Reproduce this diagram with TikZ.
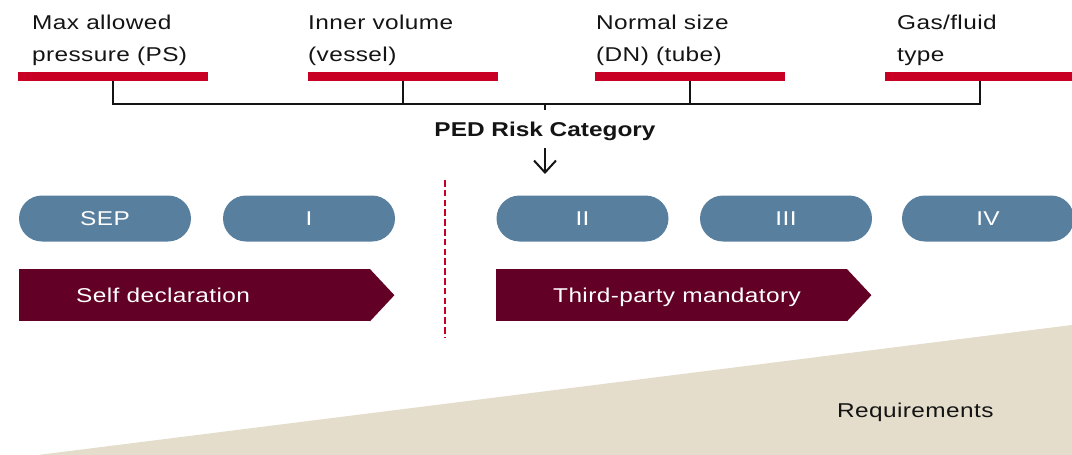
\documentclass[tikz,border=0pt]{standalone}
\usepackage{fontspec}
\setmainfont{Liberation Sans}[FakeStretch=1.22,LetterSpace=2]
\usetikzlibrary{arrows.meta}
\definecolor{pedred}{RGB}{200,0,35}
\definecolor{pill}{RGB}{89,127,159}
\definecolor{maroon}{RGB}{98,0,38}
\definecolor{beige}{RGB}{228,221,203}
\definecolor{ink}{RGB}{20,20,20}
\begin{document}
\begin{tikzpicture}[x=1pt,y=-1pt,
  lbl/.style={anchor=north west, inner sep=0pt, align=left, font=\fontsize{20}{32.3}\selectfont, text=ink},
  redbar/.style={fill=pedred, minimum width=190pt, minimum height=9pt, inner sep=0pt, anchor=north west},
  conn/.style={line width=2pt, draw=ink},
  pillbox/.style={fill=pill, rounded corners=23pt, minimum width=172pt, minimum height=46pt, inner sep=0pt, text=white, font=\fontsize{20}{24}\selectfont, text height=14.3pt, text depth=0pt},
  stage/.style={fill=maroon, minimum width=351pt, minimum height=52pt, inner sep=0pt, anchor=north west},
  stagetext/.style={inner sep=0pt, text=white, font=\fontsize{20}{24}\selectfont, text height=14.3pt, text depth=0pt, anchor=west},
  plain/.style={inner sep=0pt, text=ink, font=\fontsize{20}{24}\selectfont},
]
\useasboundingbox (0,0) rectangle (1072,455);
% background wedge
\fill[beige] (38,455) -- (1072,325) -- (1072,455) -- cycle;
\node[plain, anchor=base west] (req) at (837,417.3) {Requirements};
% labels
\node[lbl] (t1) at (32,15) {Max allowed\\pressure (PS)};
\node[lbl] (t2) at (308,15) {Inner volume\\(vessel)};
\node[lbl] (t3) at (596,15) {Normal size\\(DN) (tube)};
\node[lbl] (t4) at (897,15) {Gas/fluid\\type};
% red bars
\node[redbar] (b1) at (18,72) {};
\node[redbar] (b2) at (308,72) {};
\node[redbar] (b3) at (595,72) {};
\node[redbar] (b4) at (885,72) {};
% connectors
\coordinate (hub) at (545,104);
\draw[conn] (b1.south) -- (b1.south |- hub) -- (b4.south |- hub) -- (b4.south);
\draw[conn] (b2.south) -- (b2.south |- hub);
\draw[conn] (b3.south) -- (b3.south |- hub);
\node[plain, font=\bfseries\fontsize{20}{24}\selectfont\addfontfeature{LetterSpace=0}, anchor=base] (ped) at (545,136.7) {PED Risk Category};
\draw[conn, shorten >=12pt] (hub) -- (ped.north);
\coordinate (tip) at (545,174);
\draw[conn, shorten <=7pt, -{Straight Barb[length=12pt,width=22pt]}] (ped.south) -- (tip);
% pills
\node[pillbox] (sep) at (105,218.5) {SEP};
\node[pillbox] (c1) at (309,218.5) {I};
\node[pillbox] (c2) at (582.5,218.5) {II};
\node[pillbox] (c3) at (786,218.5) {III};
\node[pillbox] (c4) at (988,218.5) {IV};
% stages
\node[stage] (self) at (19,269) {};
\fill[maroon] ([xshift=-0.5pt]self.north east) -- ([xshift=24pt]self.east) -- ([xshift=-0.5pt]self.south east) -- cycle;
\node[stagetext] (selft) at ([xshift=57pt]self.west) {Self declaration};
\node[stage] (third) at (496,269) {};
\fill[maroon] ([xshift=-0.5pt]third.north east) -- ([xshift=24pt]third.east) -- ([xshift=-0.5pt]third.south east) -- cycle;
\node[stagetext] (thirdt) at ([xshift=57pt]third.west) {Third-party mandatory};
% separator
\coordinate (d1) at (445,180);
\coordinate (d2) at (445,337);
\draw[pedred, line width=2.5pt, dash pattern=on 6.5pt off 3.3pt] (d1) -- (d2);
\end{tikzpicture}
\end{document}
